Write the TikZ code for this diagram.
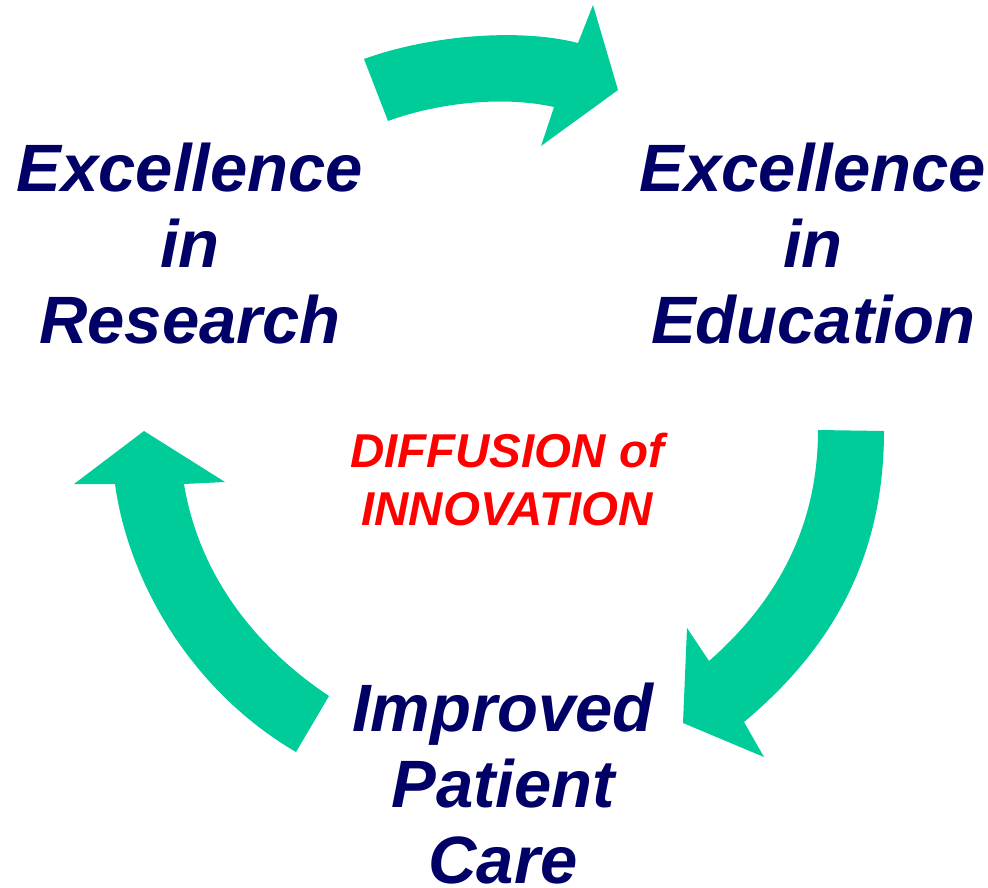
\documentclass[tikz,border=0pt]{standalone}
\usepackage{fontspec}
\setmainfont{Liberation Sans}
\definecolor{navy}{HTML}{000066}
\definecolor{arrowgreen}{HTML}{00CC99}

\begin{document}
\begin{tikzpicture}[x=1pt,y=-1pt,
    goal/.style={navy, align=center, anchor=base, inner sep=0pt,
      font=\fontsize{67}{76}\selectfont\bfseries\itshape},
    core/.style={red, align=center, anchor=base, inner sep=0pt,
      font=\fontsize{47.5}{58}\selectfont\bfseries\itshape},
    bigarrow/.style={fill=arrowgreen, draw=none}]
  \useasboundingbox (0,0) rectangle (988,887);
  % the three goals (base = last line)
  \node[goal] (research) at (190,343) {Excellence\\in\\Research};
  \node[goal] (education) at (813,343) {Excellence\\in\\Education};
  \node[goal] (care) at (503,883) {Improved\\Patient\\Care};
  \node[core] (diffusion) at (507,525) {DIFFUSION of\\INNOVATION};
  % research to education
  \fill[bigarrow] (364,59) .. controls (430,35) and (520,28) .. (578,43)
    -- (593,5) -- (618,90) -- (541,146) -- (554,107)
    .. controls (505,96) and (440,102) .. (388,121) -- cycle;
  % education to care
  \fill[bigarrow] (884,431) .. controls (884,560) and (830,650) .. (744,722)
    -- (764,757) -- (683,723) -- (687,628) -- (709,661)
    .. controls (790,590) and (818,510) .. (818,430) -- cycle;
  % care to research
  \fill[bigarrow] (296,752) .. controls (190,690) and (128,580) .. (115,484)
    -- (74,484) -- (144,431) -- (225,482) -- (184,484)
    .. controls (200,580) and (260,650) .. (329,696) -- cycle;
\end{tikzpicture}
\end{document}
